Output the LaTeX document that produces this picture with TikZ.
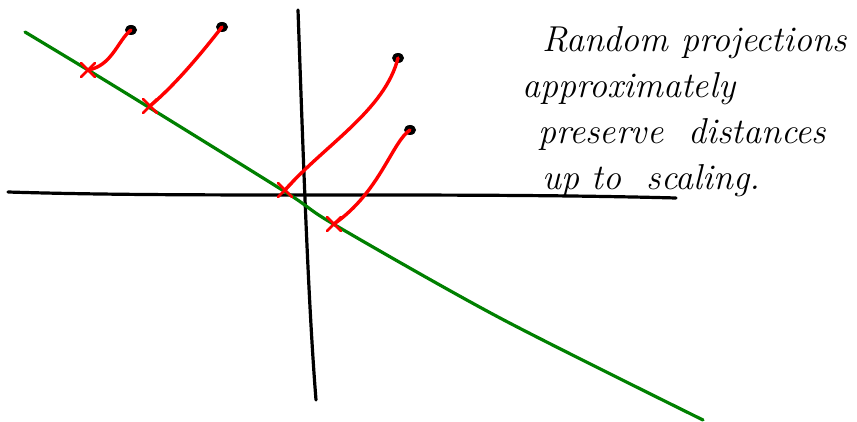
\documentclass[tikz,border=0pt]{standalone}
\usetikzlibrary{shapes.misc,shapes.geometric}
\begin{document}
\begin{tikzpicture}[x=1pt, y=-1pt, line cap=round, line join=round,
    pt/.style={ellipse, fill=black, inner sep=0pt, minimum width=12pt, minimum height=10pt},
    foot/.style={cross out, draw=red, line width=2.8pt, inner sep=0pt, minimum size=11pt},
    proj/.style={draw=red, line width=3.4pt}]

    \useasboundingbox (0,0) rectangle (857,422);

    % axes
    \draw[line width=3.2pt] (8,192) .. controls (200,198) and (450,192) .. (676,198);
    \draw[line width=3.2pt] (298,10) .. controls (303,150) and (308,300) .. (316,400);

    % projection line
    \draw[green!50!black, line width=3.2pt] plot[smooth] coordinates
        {(25,32) (88,70) (150,108) (287,193) (335,225) (500,318) (703,420)};

    % data points and their projections
    \node[pt] (p1) at (131,30) {};
    \node[pt] (p2) at (222,27) {};
    \node[pt] (p3) at (398,58) {};
    \node[pt] (p4) at (410,130) {};
    \node[foot] (q1) at (88,70) {};
    \node[foot] (q2) at (150,106) {};
    \node[foot] (q3) at (285,190) {};
    \node[foot] (q4) at (334,224) {};

    \draw[proj] (p1.center) .. controls (118,40) and (112,66) .. (q1.center);
    \draw[proj] (p2.center) .. controls (200,55) and (175,85) .. (q2.center);
    \draw[proj] (p3.center) .. controls (385,110) and (325,145) .. (q3.center);
    \draw[proj] (p4.center) .. controls (392,142) and (380,192) .. (q4.center);

    \node[anchor=west, align=left, inner sep=0pt, font=\itshape\fontsize{36}{46}\selectfont] (txt) at (522,112)
        {\hspace{20pt}Random projections\\approximately\\\hspace{16pt}preserve \ distances\\\hspace{20pt}up to \ scaling.};
\end{tikzpicture}
\end{document}
